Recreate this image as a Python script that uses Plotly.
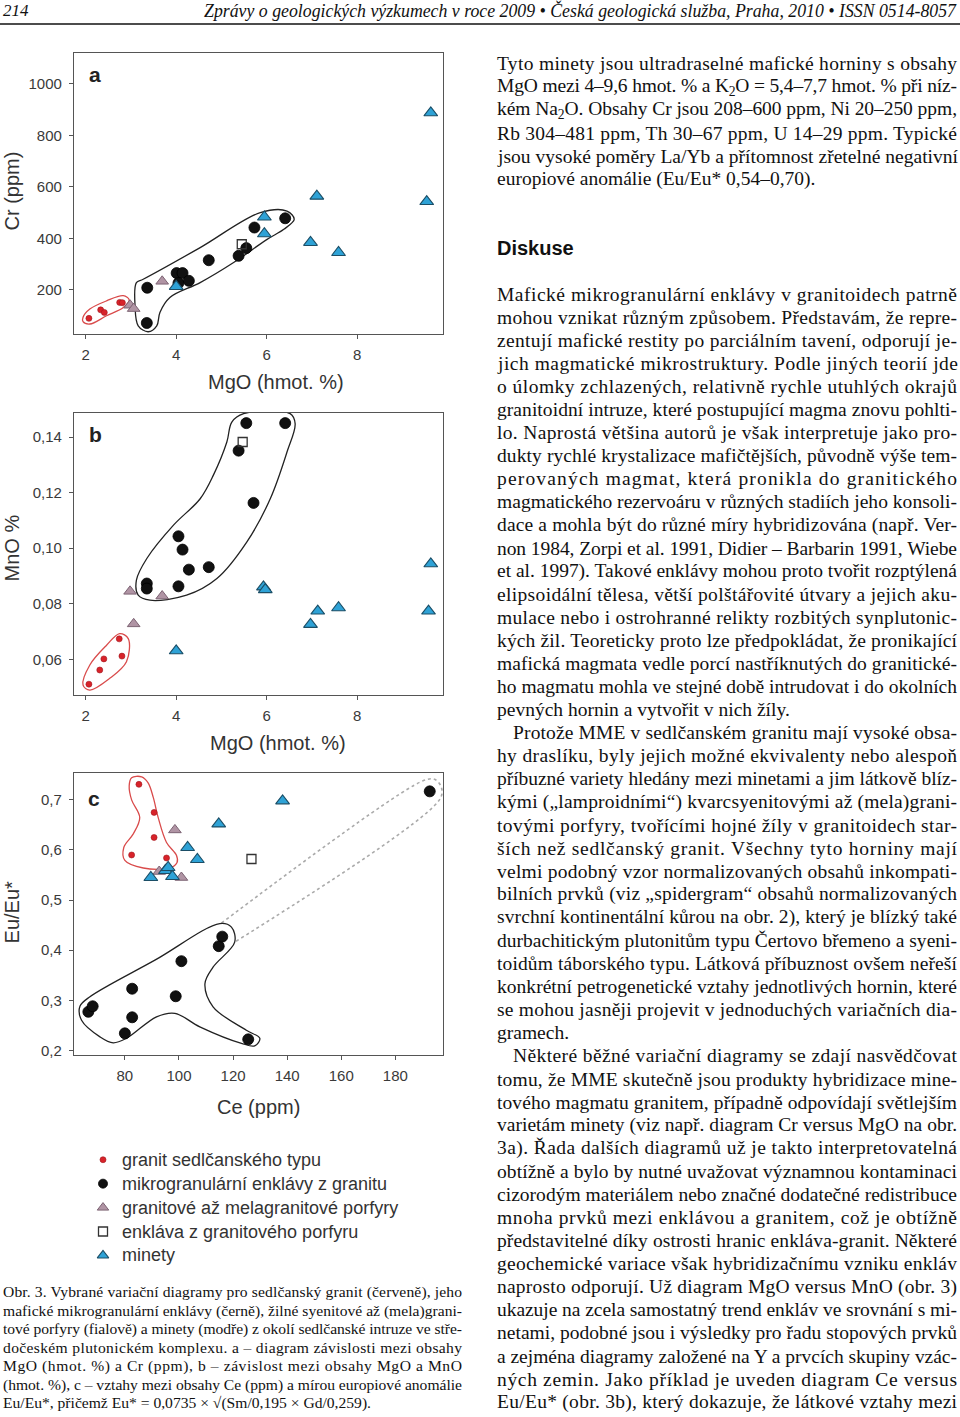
import json
import plotly.graph_objects as go

# ---------------- data ----------------
# panel a: MgO (hmot. %) vs Cr (ppm)
granit_a_mgo = [2.07, 2.33, 2.41, 2.75, 2.81]
granit_a_cr = [89, 122, 112, 151, 150]
encl_a_mgo = [3.35, 3.36, 4.01, 4.14, 4.05, 4.28, 4.72, 5.38, 5.55, 5.73, 6.41]
encl_a_cr = [71, 208, 265, 265, 226, 235, 315, 332, 362, 442, 478]
porf_a_mgo = [2.98, 3.06, 3.69]
porf_a_cr = [140, 127, 233]
encl_porf_a_mgo = [5.45]
encl_porf_a_cr = [377]
minety_a_mgo = [4.0, 5.95, 5.95, 6.97, 7.11, 7.59, 9.54, 9.63]
minety_a_cr = [213, 418, 483, 384, 564, 345, 543, 888]

# panel b: MgO (hmot. %) vs MnO %
granit_b_mgo = [2.07, 2.31, 2.40, 2.74, 2.80]
granit_b_mno = [0.0511, 0.0562, 0.0602, 0.0674, 0.0612]
encl_b_mgo = [3.35, 3.35, 4.05, 4.14, 4.28, 4.72, 4.05, 5.38, 5.55, 5.71, 6.41]
encl_b_mno = [0.0873, 0.0855, 0.1043, 0.0995, 0.0923, 0.0932, 0.0863, 0.1351, 0.145, 0.1163, 0.145]
porf_b_mgo = [2.98, 3.06, 3.69]
porf_b_mno = [0.0845, 0.0728, 0.0828]
encl_porf_b_mgo = [5.47]
encl_porf_b_mno = [0.1382]
minety_b_mgo = [4.0, 5.93, 5.97, 6.97, 7.13, 7.59, 9.58, 9.63]
minety_b_mno = [0.0631, 0.0861, 0.0851, 0.0726, 0.0774, 0.0786, 0.0774, 0.0944]

# panel c: Ce (ppm) vs Eu/Eu*
granit_c_ce = [85.2, 90.8, 90.8, 82.5, 95.4]
granit_c_eu = [0.731, 0.675, 0.625, 0.590, 0.584]
encl_c_ce = [66.5, 68.1, 80.0, 82.7, 82.7, 98.8, 100.9, 114.7, 116.0, 125.6, 192.7]
encl_c_eu = [0.277, 0.288, 0.234, 0.266, 0.323, 0.308, 0.378, 0.408, 0.427, 0.222, 0.717]
porf_c_ce = [98.5, 92.7, 100.9]
porf_c_eu = [0.640, 0.557, 0.545]
encl_porf_c_ce = [126.8]
encl_porf_c_eu = [0.582]
minety_c_ce = [89.6, 95.0, 96.0, 97.6, 103.2, 106.8, 114.7, 138.3]
minety_c_eu = [0.545, 0.559, 0.565, 0.547, 0.605, 0.581, 0.652, 0.698]

# hand-drawn group outlines (data coordinates)
outline_a_black_x = [4.53, 5.86, 6.45, 6.61, 6.38, 6.01, 5.27, 4.53, 3.86, 3.64, 3.57, 3.38, 3.16, 3.09, 3.12, 3.27, 4.53]
outline_a_black_y = [364, 500, 506, 474, 435, 396, 306, 228, 170, 112, 60, 37, 60, 138, 228, 241, 364]
outline_a_red_x = [2.46, 2.83, 2.96, 2.83, 2.46, 2.09, 1.94, 1.94, 2.09, 2.46]
outline_a_red_y = [157, 177, 161, 131, 99, 67, 76, 93, 125, 157]
outline_b_black_x = [3.94, 4.53, 4.82, 5.12, 5.23, 5.49, 6.52, 6.63, 6.45, 6.08, 5.56, 4.90, 4.23, 3.42, 3.16, 3.12, 3.35, 3.94]
outline_b_black_y = [0.1083, 0.1178, 0.1262, 0.1382, 0.1454, 0.1484, 0.1484, 0.1448, 0.1346, 0.1178, 0.1022, 0.0891, 0.0831, 0.0813, 0.0831, 0.0885, 0.0963, 0.1083]
outline_b_red_x = [2.46, 2.75, 2.94, 2.90, 2.53, 2.09, 1.94, 2.09, 2.46]
outline_b_red_y = [0.0651, 0.0693, 0.0675, 0.0592, 0.0532, 0.0490, 0.0508, 0.0580, 0.0651]
outline_c_red_x = [85.5, 83.1, 79.6, 80.0, 86.8, 96.6, 99.3, 99.1, 95.4, 92.3, 90.5, 88.6, 86.2, 82.5, 81.6, 82.5, 85.5]
outline_c_red_y = [0.665, 0.632, 0.605, 0.579, 0.564, 0.564, 0.575, 0.589, 0.615, 0.665, 0.705, 0.734, 0.746, 0.744, 0.728, 0.700, 0.665]
outline_c_black_x = [91.1, 115.1, 119.4, 120.6, 112.6, 109.6, 112.6, 124.9, 129.9, 128.0, 123.1, 107.7, 98.5, 91.7, 80.6, 75.7, 70.8, 64.0, 63.4, 67.1, 91.1]
outline_c_black_y = [0.380, 0.453, 0.446, 0.416, 0.366, 0.333, 0.287, 0.240, 0.224, 0.209, 0.214, 0.247, 0.274, 0.267, 0.224, 0.215, 0.227, 0.260, 0.288, 0.307, 0.380]
outline_c_dot_x = [115.7, 190.2, 194.5, 197.0, 196.4, 120.6]
outline_c_dot_y = [0.454, 0.738, 0.741, 0.725, 0.701, 0.416]

# axis ticks
mgo_ticks = [2, 4, 6, 8]
cr_ticks = [200, 400, 600, 800, 1000]
mno_ticks = [0.06, 0.08, 0.10, 0.12, 0.14]
mno_ticktext = ["0,06", "0,08", "0,10", "0,12", "0,14"]
ce_ticks = [80, 100, 120, 140, 160, 180]
eu_ticks = [0.2, 0.3, 0.4, 0.5, 0.6, 0.7]
eu_ticktext = ["0,2", "0,3", "0,4", "0,5", "0,6", "0,7"]

legend_keys = ["granit", "encl", "porf", "sq", "minety"]
legend_names = [
    "granit sedlčanského typu",
    "mikrogranulární enklávy z granitu",
    "granitové až melagranitové porfyry",
    "enkláva z granitového porfyru",
    "minety",
]

header_left = "214"
header_right = "Zprávy o geologických výzkumech v roce 2009 • Česká geologická služba, Praha, 2010 • ISSN 0514-8057"

intro_lines = [
    "Tyto minety jsou ultradraselné mafické horniny s obsahy",
    "MgO mezi 4–9,6 hmot. % a K<sub>2</sub>O = 5,4–7,7 hmot. % při níz-",
    "kém Na<sub>2</sub>O. Obsahy Cr jsou 208–600 ppm, Ni 20–250 ppm,",
    "Rb 304–481 ppm, Th 30–67 ppm, U 14–29 ppm. Typické",
    "jsou vysoké poměry La/Yb a přítomnost zřetelné negativní",
    "europiové anomálie (Eu/Eu* 0,54–0,70).",
]
section_title = "Diskuse"
body_lines = [
    "Mafické mikrogranulární enklávy v granitoidech patrně",
    "mohou vznikat různým způsobem. Představám, že repre-",
    "zentují mafické restity po parciálním tavení, odporují je-",
    "jich magmatické mikrostruktury. Podle jiných teorií jde",
    "o úlomky zchlazených, relativně rychle utuhlých okrajů",
    "granitoidní intruze, které postupující magma znovu pohlti-",
    "lo. Naprostá většina autorů je však interpretuje jako pro-",
    "dukty rychlé krystalizace mafičtějších, původně výše tem-",
    "perovaných magmat, která pronikla do granitického",
    "magmatického rezervoáru v různých stadiích jeho konsoli-",
    "dace a mohla být do různé míry hybridizována (např. Ver-",
    "non 1984, Zorpi et al. 1991, Didier – Barbarin 1991, Wiebe",
    "et al. 1997). Takové enklávy mohou proto tvořit rozptýlená",
    "elipsoidální tělesa, větší polštářovité útvary a jejich aku-",
    "mulace nebo i ostrohranné relikty rozbitých synplutonic-",
    "kých žil. Teoreticky proto lze předpokládat, že pronikající",
    "mafická magmata vedle porcí nastříknutých do granitické-",
    "ho magmatu mohla ve stejné době intrudovat i do okolních",
    "pevných hornin a vytvořit v nich žíly.$",
    "»Protože MME v sedlčanském granitu mají vysoké obsa-",
    "hy draslíku, byly jejich možné ekvivalenty nebo alespoň",
    "příbuzné variety hledány mezi minetami a jim látkově blíz-",
    "kými („lamproidními“) kvarcsyenitovými až (mela)grani-",
    "tovými porfyry, tvořícími hojné žíly v granitoidech star-",
    "ších než sedlčanský granit. Všechny tyto horniny mají",
    "velmi podobný vzor normalizovaných obsahů inkompati-",
    "bilních prvků (viz „spidergram“ obsahů normalizovaných",
    "svrchní kontinentální kůrou na obr. 2), který je blízký také",
    "durbachitickým plutonitům typu Čertovo břemeno a syeni-",
    "toidům táborského typu. Látková příbuznost ovšem neřeší",
    "konkrétní petrogenetické vztahy jednotlivých hornin, které",
    "se mohou jasněji projevit v jednoduchých variačních dia-",
    "gramech.$",
    "»Některé běžné variační diagramy se zdají nasvědčovat",
    "tomu, že MME skutečně jsou produkty hybridizace mine-",
    "tového magmatu granitem, případně odpovídají světlejším",
    "varietám minety (viz např. diagram Cr versus MgO na obr.",
    "3a). Řada dalších diagramů už je takto interpretovatelná",
    "obtížně a bylo by nutné uvažovat významnou kontaminaci",
    "cizorodým materiálem nebo značné dodatečné redistribuce",
    "mnoha prvků mezi enklávou a granitem, což je obtížně",
    "představitelné díky ostrosti hranic enkláva-granit. Některé",
    "geochemické variace však hybridizačnímu vzniku enkláv",
    "naprosto odporují. Už diagram MgO versus MnO (obr. 3)",
    "ukazuje na zcela samostatný trend enkláv ve srovnání s mi-",
    "netami, podobné jsou i výsledky pro řadu stopových prvků",
    "a zejména diagramy založené na Y a prvcích skupiny vzác-",
    "ných zemin. Jako příklad je uveden diagram Ce versus",
    "Eu/Eu* (obr. 3b), který dokazuje, že látkové vztahy mezi",
]
caption_lines = [
    "Obr. 3. Vybrané variační diagramy pro sedlčanský granit (červeně), jeho",
    "mafické mikrogranulární enklávy (černě), žilné syenitové až (mela)grani-",
    "tové porfyry (fialově) a minety (modře) z okolí sedlčanské intruze ve stře-",
    "dočeském plutonickém komplexu. a – diagram závislosti mezi obsahy",
    "MgO (hmot. %) a Cr (ppm), b – závislost mezi obsahy MgO a MnO",
    "(hmot. %), c – vztahy mezi obsahy Ce (ppm) a mírou europiové anomálie",
    "Eu/Eu*, přičemž Eu* = 0,0735 × √(Sm/0,195 × Gd/0,259).",
]

# ---------------- styling ----------------
W, H = 960, 1417


def px(x):
    return x / W


def py(y):
    return 1 - y / H


SANS = "Liberation Sans, Arial, sans-serif"
SERIF = "Liberation Serif, Times New Roman, serif"

styles = {
    "granit": dict(symbol="circle", size=6, color="#d8232a", line=dict(color="#a0161c", width=0.6)),
    "encl": dict(symbol="circle", size=11, color="#111111", line=dict(color="#000000", width=0.8)),
    "porf": dict(symbol="triangle-up", size=11, color="#b094a4", line=dict(color="#7c6373", width=1)),
    "sq": dict(symbol="square-open", size=9, color="#333333", line=dict(color="#333333", width=1.3)),
    "minety": dict(symbol="triangle-up", size=12, color="#2ea2d6", line=dict(color="#1b4e66", width=1.1)),
}
legend_sizes = {"granit": 6, "encl": 9, "porf": 10, "sq": 9, "minety": 10}

fig = go.Figure()


def outline(x, y, color, xa, ya, dash="solid", width=1.3):
    fig.add_trace(go.Scatter(x=x, y=y, mode="lines",
                             line=dict(color=color, width=width, shape="spline", smoothing=1.0, dash=dash),
                             xaxis=xa, yaxis=ya, showlegend=False, hoverinfo="skip"))


def points(x, y, key, name, xa, ya):
    fig.add_trace(go.Scatter(x=x, y=y, mode="markers", marker=styles[key], name=name,
                             showlegend=False, xaxis=xa, yaxis=ya))


# panel a
outline(outline_a_red_x, outline_a_red_y, "#d94b4b", "x", "y")
outline(outline_a_black_x, outline_a_black_y, "#222222", "x", "y")
points(granit_a_mgo, granit_a_cr, "granit", legend_names[0], "x", "y")
points(encl_a_mgo, encl_a_cr, "encl", legend_names[1], "x", "y")
points(porf_a_mgo, porf_a_cr, "porf", legend_names[2], "x", "y")
points(encl_porf_a_mgo, encl_porf_a_cr, "sq", legend_names[3], "x", "y")
points(minety_a_mgo, minety_a_cr, "minety", legend_names[4], "x", "y")

# panel b
outline(outline_b_red_x, outline_b_red_y, "#d94b4b", "x2", "y2")
outline(outline_b_black_x, outline_b_black_y, "#222222", "x2", "y2")
points(granit_b_mgo, granit_b_mno, "granit", legend_names[0], "x2", "y2")
points(encl_b_mgo, encl_b_mno, "encl", legend_names[1], "x2", "y2")
points(porf_b_mgo, porf_b_mno, "porf", legend_names[2], "x2", "y2")
points(encl_porf_b_mgo, encl_porf_b_mno, "sq", legend_names[3], "x2", "y2")
points(minety_b_mgo, minety_b_mno, "minety", legend_names[4], "x2", "y2")

# panel c
outline(outline_c_dot_x, outline_c_dot_y, "#aaaaaa", "x3", "y3", dash="dot", width=1.6)
outline(outline_c_red_x, outline_c_red_y, "#d94b4b", "x3", "y3")
outline(outline_c_black_x, outline_c_black_y, "#222222", "x3", "y3")
points(granit_c_ce, granit_c_eu, "granit", legend_names[0], "x3", "y3")
points(encl_c_ce, encl_c_eu, "encl", legend_names[1], "x3", "y3")
points(porf_c_ce, porf_c_eu, "porf", legend_names[2], "x3", "y3")
points(encl_porf_c_ce, encl_porf_c_eu, "sq", legend_names[3], "x3", "y3")
points(minety_c_ce, minety_c_eu, "minety", legend_names[4], "x3", "y3")

# legend (one marker per entry, on a hidden axis: one row per legend item)
for i, key in enumerate(legend_keys):
    m = dict(styles[key])
    m["size"] = legend_sizes[key]
    fig.add_trace(go.Scatter(x=[0], y=[i], mode="markers", marker=m, name=legend_names[i],
                             showlegend=False, xaxis="x4", yaxis="y4", hoverinfo="skip"))

axis_common = dict(showline=True, mirror=True, linecolor="#555555", linewidth=1.2, ticks="outside", ticklen=4,
                   tickcolor="#555555", showgrid=False, zeroline=False,
                   tickfont=dict(family=SANS, size=15, color="#3a3a3a"))
xcommon = dict(axis_common, ticklabelstandoff=3)
ycommon = dict(axis_common, ticklabelstandoff=4)

xdom = [px(74), px(443)]
fig.update_layout(
    width=W, height=H, margin=dict(l=0, r=0, t=0, b=0),
    paper_bgcolor="white", plot_bgcolor="white",
    xaxis=dict(xcommon, domain=xdom, range=[1.74, 9.9], tickvals=mgo_ticks, anchor="y"),
    yaxis=dict(ycommon, domain=[py(335), py(53)], range=[28, 1121], tickvals=cr_ticks, anchor="x"),
    xaxis2=dict(xcommon, domain=xdom, range=[1.74, 9.9], tickvals=mgo_ticks, anchor="y2"),
    yaxis2=dict(ycommon, domain=[py(697), py(414)], range=[0.0472, 0.1487], tickvals=mno_ticks,
                ticktext=mno_ticktext, anchor="x2"),
    xaxis3=dict(xcommon, domain=xdom, range=[61.2, 197.6], tickvals=ce_ticks, anchor="y3"),
    yaxis3=dict(ycommon, domain=[py(1058), py(775)], range=[0.1907, 0.754], tickvals=eu_ticks,
                ticktext=eu_ticktext, anchor="x3"),
    xaxis4=dict(domain=[px(90), px(116)], range=[-1, 1], visible=False, anchor="y4", fixedrange=True),
    yaxis4=dict(domain=[py(1271), py(1151)], range=[len(legend_keys) - 0.5, -0.5], visible=False,
                anchor="x4", fixedrange=True),
    showlegend=False,
)

ann = []
justify = []


def text(x, y, s, size, family=SERIF, color="#111111", xanchor="left", angle=0, yref="paper", width=None):
    if width is not None:
        justify.append([len(ann), width])
    ann.append(dict(x=px(x), y=(py(y) if yref == "paper" else y), xref="paper", yref=yref, text=s,
                    showarrow=False, xanchor=xanchor, yanchor="middle", borderpad=0, borderwidth=0,
                    align=("left" if xanchor == "left" else "center"),
                    textangle=angle, font=dict(family=family, size=size, color=color)))


# header
text(3, 11, "<i>" + header_left + "</i>", 17)
text(957, 11, "<i>" + header_right + "</i>", 17.8, xanchor="right")

# axis titles and panel letters
text(12, 192, "Cr (ppm)", 20, SANS, "#333333", "center", -90)
text(276, 383, "MgO (hmot. %)", 20, SANS, "#333333", "center")
text(12, 550, "MnO %", 20, SANS, "#333333", "center", -90)
text(278, 745, "MgO (hmot. %)", 20, SANS, "#333333", "center")
text(12, 915, "Eu/Eu*", 20, SANS, "#333333", "center", -90)
text(258, 1110, "Ce (ppm)", 20, SANS, "#333333", "center")
text(95, 75, "<b>a</b>", 21, SANS, "#222222", "center")
text(95, 436, "<b>b</b>", 21, SANS, "#222222", "center")
text(94, 801, "<b>c</b>", 21, SANS, "#222222", "center")

# legend texts
for i, name in enumerate(legend_names):
    text(122, i, name, 18, SANS, "#333333", yref="y4")

# right column
for i, s in enumerate(intro_lines):
    last = i == len(intro_lines) - 1
    text(497, 64 + i * 23.15, s, 19.5, width=None if last else 460)
text(497, 249, "<b>" + section_title + "</b>", 20, SANS, "#111111")
for i, s in enumerate(body_lines):
    x0 = 497
    end = False
    if s.startswith("»"):
        s = s[1:]
        x0 = 513
    if s.endswith("$"):
        s = s[:-1]
        end = True
    text(x0, 295 + i * 23.15, s, 19.5, width=None if end else 957 - x0)

# caption
for i, s in enumerate(caption_lines):
    last = i == len(caption_lines) - 1
    text(3, 1296 + i * 18.5, s, 15.6, width=None if last else 459)

fig.update_layout(annotations=ann)
fig.add_shape(type="line", xref="paper", yref="paper", x0=0, x1=1, y0=py(24), y1=py(24),
              line=dict(color="#111111", width=1.6))

post = """
document.body.style.margin = '0px';
document.body.style.padding = '0px';
var gd = document.getElementById('{plot_id}');
var J = %s;
J.forEach(function (p) {
  var t = gd.querySelector('g.annotation[data-index="' + p[0] + '"] text.annotation-text');
  if (t) { t.setAttribute('textLength', p[1]); t.setAttribute('lengthAdjust', 'spacing'); }
});
""" % json.dumps(justify)

fig.write_html("out.html", post_script=post, config={"displayModeBar": False})
